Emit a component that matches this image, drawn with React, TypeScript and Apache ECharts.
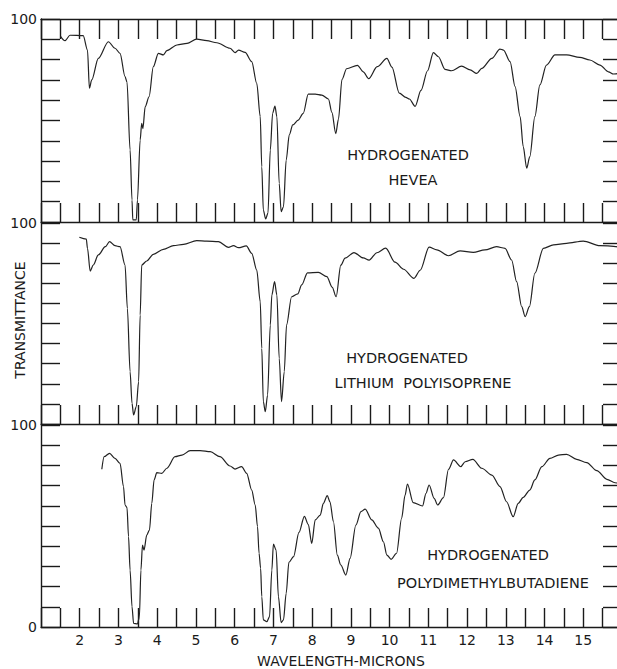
import React, { useEffect, useRef } from "react";
import * as echarts from "echarts";

// Hydrogenated Hevea
const heveaWave = [1.5, 1.62, 1.75, 2.09, 2.2, 2.25, 2.31, 2.48, 2.74, 2.91, 3.04, 3.17, 3.22, 3.3, 3.35, 3.37, 3.46, 3.49, 3.56, 3.6, 3.63, 3.69, 3.79, 3.9, 4.03, 4.16, 4.25, 4.51, 4.77, 5.02, 5.28, 5.54, 5.88, 6.01, 6.1, 6.27, 6.44, 6.57, 6.66, 6.7, 6.74, 6.8, 6.86, 6.92, 6.98, 7.04, 7.09, 7.15, 7.2, 7.26, 7.33, 7.41, 7.5, 7.64, 7.77, 7.9, 8.08, 8.25, 8.42, 8.51, 8.61, 8.68, 8.77, 8.89, 9.17, 9.32, 9.46, 9.68, 9.93, 10.06, 10.25, 10.42, 10.51, 10.66, 10.81, 10.98, 11.13, 11.26, 11.43, 11.6, 11.86, 12.08, 12.25, 12.38, 12.64, 12.85, 12.94, 13.11, 13.24, 13.37, 13.45, 13.54, 13.62, 13.75, 13.88, 14.05, 14.27, 14.57, 14.91, 15.17, 15.43, 15.65, 15.78, 15.95];
const heveaT = [91.6, 89.3, 92, 91.8, 84.7, 65.9, 70, 80.6, 88.8, 85.6, 83.1, 71.6, 69, 35.5, 10.8, 1, 1, 10.8, 40.4, 48.6, 46, 56.8, 61.7, 76.5, 83.1, 82.3, 84.4, 87.2, 88, 90.1, 89.3, 88.3, 85.6, 83.4, 84.7, 83.6, 79, 68.3, 51.9, 27.2, 5.9, 1.5, 4.4, 35.5, 53.5, 57.1, 51.9, 19, 5.1, 7.5, 30.5, 42.9, 47.8, 50.2, 53.5, 63, 63, 62.5, 60.6, 54, 43.5, 50.7, 70.2, 75.5, 77.2, 74, 70.6, 76.5, 80.6, 76.3, 63.5, 61.4, 60.6, 57, 64.8, 74.5, 83.4, 81.4, 75.2, 74.5, 76.8, 74.9, 73.2, 75.7, 80.6, 85.2, 84.7, 79, 66.7, 51.9, 37.1, 26.5, 32.2, 51.9, 67.5, 77.3, 82.3, 82.3, 81.1, 79.8, 77.3, 74, 72.9, 73.5];

// Hydrogenated Lithium Polyisoprene
const lithiumWave = [1.99, 2.17, 2.2, 2.27, 2.35, 2.48, 2.66, 2.77, 2.91, 3.04, 3.17, 3.23, 3.3, 3.35, 3.39, 3.46, 3.52, 3.56, 3.6, 3.73, 3.9, 4.16, 4.42, 4.68, 5.02, 5.28, 5.58, 5.84, 5.97, 6.1, 6.3, 6.44, 6.57, 6.66, 6.7, 6.74, 6.79, 6.85, 6.92, 6.96, 7.03, 7.09, 7.15, 7.21, 7.28, 7.34, 7.47, 7.63, 7.73, 7.88, 8.16, 8.38, 8.52, 8.62, 8.74, 8.85, 9.08, 9.32, 9.47, 9.67, 9.9, 10.14, 10.36, 10.63, 10.79, 11.02, 11.22, 11.52, 11.82, 12.16, 12.46, 12.76, 12.98, 13.15, 13.28, 13.41, 13.5, 13.61, 13.75, 13.97, 14.23, 14.57, 15.0, 15.43, 15.95];
const lithiumT = [92.9, 92, 87.4, 76.1, 79.1, 84.1, 88.2, 90.7, 88.7, 88.2, 79.1, 57.5, 26, 10.3, 4.5, 8.6, 21, 54.2, 79.1, 81.1, 84.4, 86.9, 88.7, 89.4, 91.2, 91, 90.7, 87.9, 88.7, 87.7, 88.6, 84.9, 76.6, 60.8, 37.6, 11.1, 6.1, 14.4, 49.3, 64.2, 70.8, 64.2, 32.7, 11.1, 26, 49.3, 63.3, 64.7, 69.2, 75.2, 75.4, 73.3, 68, 63.3, 79, 82.5, 85.3, 82.6, 81.5, 85.2, 87.5, 80.5, 77, 72.5, 76.5, 88, 86.6, 83.7, 86.1, 85.4, 86.6, 88.2, 87.4, 81.6, 70.8, 58.4, 53.4, 58.4, 75, 87.4, 89.1, 89.9, 91, 88.7, 88];

// Hydrogenated Polydimethylbutadiene
const pdmbWave = [2.57, 2.63, 2.77, 2.91, 3.04, 3.13, 3.17, 3.22, 3.26, 3.3, 3.35, 3.39, 3.49, 3.54, 3.58, 3.62, 3.66, 3.73, 3.8, 3.86, 3.92, 3.99, 4.12, 4.25, 4.46, 4.64, 4.85, 5.11, 5.37, 5.62, 5.88, 6.01, 6.18, 6.31, 6.44, 6.53, 6.59, 6.63, 6.67, 6.7, 6.74, 6.83, 6.9, 6.96, 7.0, 7.07, 7.13, 7.2, 7.26, 7.33, 7.4, 7.52, 7.66, 7.8, 7.9, 7.99, 8.08, 8.21, 8.29, 8.39, 8.46, 8.55, 8.65, 8.74, 8.87, 8.98, 9.13, 9.26, 9.37, 9.54, 9.71, 9.84, 9.93, 10.04, 10.18, 10.31, 10.4, 10.46, 10.61, 10.85, 10.94, 11.02, 11.15, 11.24, 11.39, 11.52, 11.65, 11.84, 11.95, 12.15, 12.38, 12.64, 12.85, 13.02, 13.19, 13.32, 13.45, 13.62, 13.75, 13.93, 14.14, 14.36, 14.57, 14.83, 15.09, 15.35, 15.61, 15.82, 15.95];
const pdmbT = [78.1, 84.3, 86, 83.5, 81, 69.5, 60.4, 59.2, 44.7, 28.2, 10, 1.8, 1.5, 5, 28.2, 40.6, 38.1, 45.5, 48, 61.2, 72.8, 76.4, 76.1, 78.6, 84.3, 85.1, 87.3, 87.3, 86.8, 84.3, 79.7, 78.2, 79.4, 76.1, 67.8, 60.4, 49.7, 36.5, 29.1, 15, 3.5, 2.6, 5.1, 28.2, 41, 38.1, 15, 2.2, 3.5, 16.7, 32, 34.8, 46.8, 54.8, 50.8, 41.4, 53, 55.4, 61.2, 65, 62, 52.1, 35.6, 30.7, 25.7, 34, 50.5, 57.1, 58.4, 53, 48.9, 42.2, 35.6, 33.5, 36.5, 53.8, 65.3, 70.8, 61.6, 59.9, 66.2, 70.3, 63.7, 60.4, 64, 78, 82.7, 79.4, 81.8, 83, 78.6, 75.2, 69.5, 62, 54.6, 61.2, 64.2, 67.8, 72.8, 79.4, 83.5, 85.1, 85.5, 83, 81.4, 77.4, 73.1, 71.4, 70.8];

const panelNames = [
  ["HYDROGENATED", "HEVEA"],
  ["HYDROGENATED", "LITHIUM  POLYISOPRENE"],
  ["HYDROGENATED", "POLYDIMETHYLBUTADIENE"],
];
const xTickLabels = ["2", "3", "4", "5", "6", "7", "8", "9", "10", "11", "12", "13", "14", "15"];
const yTopLabel = "100";
const yBottomLabel = "0";
const xTitle = "WAVELENGTH-MICRONS";
const yTitle = "TRANSMITTANCE";

const INK = "#1a1a1a";
const FONT = "DejaVu Sans, sans-serif";

export default function App() {
  const ref = useRef<HTMLDivElement>(null);
  useEffect(() => {
    if (!ref.current) return;
    const chart = echarts.init(ref.current, undefined, { renderer: "svg" });

    const gridTops = [19, 223, 425];
    const gridHeights = [203, 201, 202];
    const grids = gridTops.map((t, i) => ({ left: 41, width: 581, top: t, height: gridHeights[i] }));

    const lineStyle = { color: INK, width: 1.4 };
    const bottomX = (i: number) => ({
      type: "value",
      gridIndex: i,
      min: 1,
      max: 16,
      interval: 0.5,
      position: "bottom",
      axisLine: { show: true, onZero: false, lineStyle },
      axisTick: { show: true, inside: true, length: 19, lineStyle },
      splitLine: { show: false },
      axisLabel: {
        show: i === 2,
        color: INK,
        fontFamily: FONT,
        fontSize: 14,
        margin: 6,
        formatter: (v: number) => {
          const s = String(v);
          return xTickLabels.includes(s) ? s : "";
        },
      },
    });
    const topX = {
      type: "value",
      gridIndex: 0,
      min: 1,
      max: 16,
      interval: 0.5,
      position: "top",
      axisLine: { show: true, onZero: false, lineStyle },
      axisTick: { show: true, inside: true, length: 20, lineStyle },
      splitLine: { show: false },
      axisLabel: { show: false },
    };
    const leftY = (i: number) => ({
      type: "value",
      gridIndex: i,
      min: 0,
      max: 100,
      interval: 10,
      position: "left",
      axisLine: { show: true, onZero: false, lineStyle },
      axisTick: { show: true, inside: true, length: 19, lineStyle },
      splitLine: { show: false },
      axisLabel: {
        show: true,
        color: INK,
        fontFamily: FONT,
        fontSize: 14,
        margin: 4,
        formatter: (v: number) => (v === 100 ? yTopLabel : v === 0 && i === 2 ? yBottomLabel : ""),
      },
    });
    const rightY = (i: number) => ({
      type: "value",
      gridIndex: i,
      min: 0,
      max: 100,
      interval: 10,
      position: "right",
      axisLine: { show: true, onZero: false, lineStyle },
      axisTick: { show: true, inside: true, length: 19, lineStyle },
      splitLine: { show: false },
      axisLabel: { show: false },
    });

    const waves = [heveaWave, lithiumWave, pdmbWave];
    const trans = [heveaT, lithiumT, pdmbT];
    const series = waves.map((w, i) => ({
      type: "line",
      xAxisIndex: i,
      yAxisIndex: i,
      data: w.map((x, k) => [x, trans[i][k]]),
      showSymbol: false,
      smooth: 0.3,
      smoothMonotone: "x",
      lineStyle: { color: "#222", width: 1.2 },
      silent: true,
    }));

    const labelPos = [
      [[408, 155], [413, 180]],
      [[407, 358], [423, 383]],
      [[488, 555], [493, 583]],
    ];
    const texts: any[] = [];
    panelNames.forEach((names, i) => {
      names.forEach((t, j) => {
        texts.push({
          type: "text",
          x: labelPos[i][j][0],
          y: labelPos[i][j][1],
          style: { text: t, fill: INK, font: `14.5px ${FONT}`, textAlign: "center", textVerticalAlign: "middle" },
        });
      });
    });
    texts.push({
      type: "text",
      x: 341,
      y: 661,
      style: { text: xTitle, fill: INK, font: `14px ${FONT}`, textAlign: "center", textVerticalAlign: "middle" },
    });
    texts.push({
      type: "text",
      x: 20,
      y: 320,
      rotation: Math.PI / 2,
      style: { text: yTitle, fill: INK, font: `14px ${FONT}`, textAlign: "center", textVerticalAlign: "middle" },
    });

    chart.setOption({
      animation: false,
      backgroundColor: "#ffffff",
      grid: grids,
      xAxis: [bottomX(0), bottomX(1), bottomX(2), topX],
      yAxis: [leftY(0), leftY(1), leftY(2), rightY(0), rightY(1), rightY(2)],
      series,
      graphic: texts,
    });
    return () => chart.dispose();
  }, []);
  return (
    <div
      ref={ref}
      style={{ position: "fixed", left: 0, top: 0, width: 630, height: 669, background: "#fff" }}
    />
  );
}
